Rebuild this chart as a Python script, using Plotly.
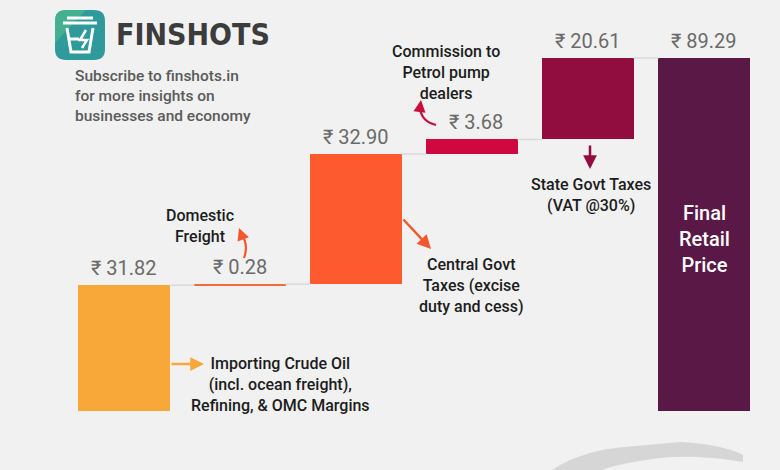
import plotly.graph_objects as go

# ---------------- data ----------------
categories = ["Importing Crude Oil", "Domestic Freight", "Central Govt Taxes",
              "Dealer Commission", "State Govt Taxes", "Final Retail Price"]
values = [31.82, 0.28, 32.90, 3.68, 20.61, 89.29]
measures = ["relative", "relative", "relative", "relative", "relative", "total"]
value_labels = ["₹ 31.82", "₹ 0.28", "₹ 32.90", "₹ 3.68", "₹ 20.61", "₹ 89.29"]
bar_colors = ["#F8A838", "#F46A3A", "#FD5A2F", "#CF0840", "#910D3F", "#5A1846"]

# ---------------- helpers ----------------
W, H = 780, 470
def X(p): return p / W
def Y(p): return 1 - p / H

def path(segs):
    out = []
    for cmd, pts in segs:
        if cmd == "Z":
            out.append("Z")
            continue
        coords = []
        for i in range(0, len(pts), 2):
            coords.append(f"{X(pts[i]):.5f},{Y(pts[i+1]):.5f}")
        out.append(cmd + " " + " ".join(coords))
    return " ".join(out)

# running bases computed from the values
bases, running = [], 0.0
for v, m in zip(values, measures):
    if m == "total":
        bases.append(0.0)
    else:
        bases.append(running)
        running += v
tops = [b + v for b, v in zip(bases, values)]
xs = list(range(len(values)))
bw = 0.785

# connectors
cx, cy = [], []
for i in range(len(values) - 1):
    lvl = tops[i]
    cx += [xs[i] + bw / 2, xs[i + 1] - bw / 2, None]
    cy += [lvl, lvl, None]

fig = go.Figure()
fig.add_trace(go.Scatter(x=cx, y=cy, mode="lines",
                         line=dict(color="#dadada", width=1.5),
                         hoverinfo="skip"))
fig.add_trace(go.Bar(x=xs, y=values, base=bases, width=bw,
                     marker=dict(color=bar_colors, line=dict(width=0)),
                     hovertext=categories, hoverinfo="text"))

ann = []
# value labels
for i, (t, lab) in enumerate(zip(tops, value_labels)):
    ann.append(dict(x=xs[i], y=t, xref="x", yref="y", text=lab, showarrow=False,
                    xanchor="center", yanchor="bottom", yshift=3,
                    xshift=4 if i == 3 else 0,
                    font=dict(family="Roboto, sans-serif", size=20, color="#6a6a6a")))

txt_font = dict(family="Roboto, sans-serif", size=16, color="#1c1c1c", weight=500)
def note(xp, yp, text, **kw):
    d = dict(x=X(xp), y=Y(yp), xref="paper", yref="paper", text=text,
             showarrow=False, font=txt_font, align="center",
             xanchor="center", yanchor="middle")
    d.update(kw)
    ann.append(d)

note(200, 226, "Domestic<br>Freight")
note(446, 72, "Commission to<br>Petrol pump<br>dealers")
note(280, 384, "Importing Crude Oil<br>(incl. ocean freight),<br>Refining, &amp; OMC Margins")
note(472, 285, "Central Govt<br>Taxes (excise<br>duty and cess)")
note(591, 195, "State Govt Taxes<br>(VAT @30%)")
note(704, 239, "Final<br>Retail<br>Price",
     font=dict(family="Roboto, sans-serif", size=20, color="#ffffff", weight=500))

# logo text
note(114, 34, "<b>FINSHOTS</b>", xanchor="left", align="left",
     font=dict(family="DejaVu Sans Condensed, sans-serif",
               size=30, color="#3c3c3c"))
note(73, 96, "Subscribe to finshots.in<br>for more insights on<br>businesses and economy",
     xanchor="left", align="left",
     font=dict(family="Roboto, sans-serif", size=15.5, color="#5a5a5a", weight=500))

# straight arrows
def arrow(hx, hy, tx, ty, color, width=2.5, size=1.0):
    ann.append(dict(x=X(hx), y=Y(hy), xref="paper", yref="paper", text="",
                    showarrow=True, ax=tx - hx, ay=ty - hy, arrowhead=2,
                    arrowsize=size, arrowwidth=width, arrowcolor=color))

arrow(204, 364, 170, 364, "#F8A838", 2.5, 1.1)
arrow(431, 249, 402, 218, "#F2582E", 2.5, 1.1)
arrow(590, 169, 590, 144, "#910D3F", 2.5, 1.1)
# heads for curved arrows
arrow(239, 228, 242, 236, "#F2582E", 2.2, 1.1)
arrow(421, 100, 420, 108, "#C8103E", 2.2, 1.1)

shapes = []
# curved arrow shafts
shapes.append(dict(type="path", xref="paper", yref="paper",
                   path=path([("M", [244, 258]), ("Q", [249, 244, 241, 234])]),
                   line=dict(color="#F2582E", width=2.2)))
shapes.append(dict(type="path", xref="paper", yref="paper",
                   path=path([("M", [436, 125]), ("Q", [420, 121, 420, 106])]),
                   line=dict(color="#C8103E", width=2.2)))

# logo icon
x0, y0, x1, y1, r = 55, 10, 105, 60, 11
shapes.append(dict(type="path", xref="paper", yref="paper", layer="below",
                   path=path([("M", [x0 + r, y0]), ("L", [x1 - r, y0]),
                              ("Q", [x1, y0, x1, y0 + r]), ("L", [x1, y1 - r]),
                              ("Q", [x1, y1, x1 - r, y1]), ("L", [x0 + r, y1]),
                              ("Q", [x0, y1, x0, y1 - r]), ("L", [x0, y0 + r]),
                              ("Q", [x0, y0, x0 + r, y0]), ("Z", [])]),
                   fillcolor="#2E9A9C", line=dict(width=0)))
shapes.append(dict(type="path", xref="paper", yref="paper", layer="below",
                   path=path([("M", [x0 + r, y0]), ("L", [x1 - r - 8, y0]),
                              ("L", [x0, y1 - r - 6]), ("L", [x0, y0 + r]),
                              ("Q", [x0, y0, x0 + r, y0]), ("Z", [])]),
                   fillcolor="#55BE8A", opacity=0.6, line=dict(width=0)))
white = dict(color="#ffffff", width=3)
shapes.append(dict(type="path", xref="paper", yref="paper",
                   path=path([("M", [67, 18]), ("L", [93, 18])]), line=white))
shapes.append(dict(type="path", xref="paper", yref="paper",
                   path=path([("M", [63, 23]), ("L", [97, 23])]), line=white))
shapes.append(dict(type="path", xref="paper", yref="paper",
                   path=path([("M", [67, 28]), ("L", [71, 52]), ("L", [89, 52]),
                              ("L", [93, 28])]), line=white))
shapes.append(dict(type="path", xref="paper", yref="paper",
                   path=path([("M", [70, 39]), ("L", [79, 39])]), line=white))
shapes.append(dict(type="path", xref="paper", yref="paper",
                   path=path([("M", [86, 30]), ("L", [80, 40]), ("L", [87, 40]),
                              ("L", [82, 48])]), line=dict(color="#ffffff", width=2.5)))

# brush stroke at bottom
shapes.append(dict(type="path", xref="paper", yref="paper", layer="below",
                   path=path([("M", [552, 470]), ("C", [575, 455, 600, 449, 625, 447]),
                              ("L", [680, 442]), ("C", [710, 443, 735, 450, 743, 455]),
                              ("L", [743, 462]), ("C", [720, 458, 690, 455, 660, 458]),
                              ("C", [630, 462, 612, 466, 602, 470]), ("Z", [])]),
                   fillcolor="#d6d6d6", line=dict(width=0)))

# axis ranges chosen so that the plot area fills the page
px_per_unit = 3.9534
fig.update_layout(
    width=W, height=H,
    margin=dict(l=0, r=0, t=0, b=0),
    paper_bgcolor="#f1f1f1", plot_bgcolor="#f1f1f1",
    showlegend=False,
    xaxis=dict(visible=False, range=[-0.5 - 66 / 116, 5.5 + 18 / 116], fixedrange=True),
    yaxis=dict(visible=False, range=[-59 / px_per_unit, (H - 59) / px_per_unit], fixedrange=True),
    annotations=ann, shapes=shapes,
    bargap=0,
)
fig.write_html("out.html", config={"displayModeBar": False},
               post_script="document.body.style.margin='0';document.body.style.overflow='hidden';")
